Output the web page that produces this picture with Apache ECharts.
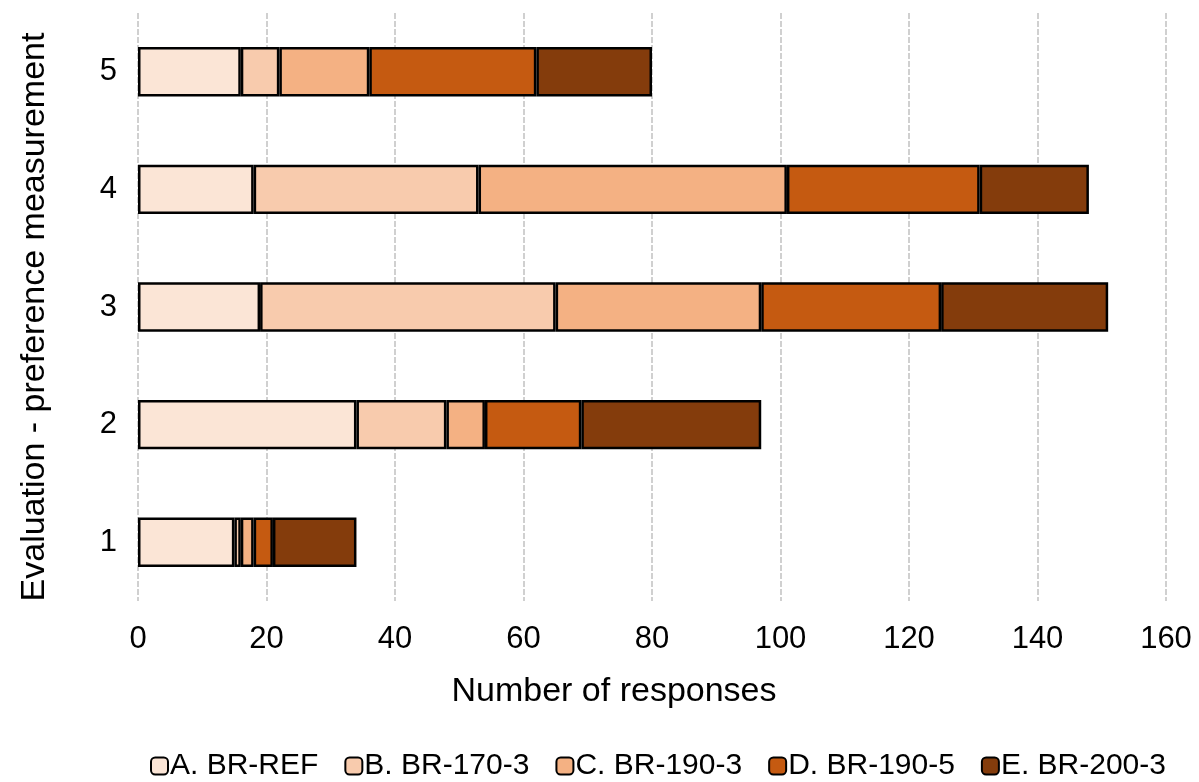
<!DOCTYPE html>
<html><head><meta charset="utf-8">
<script src="https://cdn.jsdelivr.net/npm/echarts@6/dist/echarts.min.js"></script>
<style>html,body{margin:0;padding:0;background:#fff}#c{width:1199px;height:782px}</style>
</head><body><div id="c"></div>
<script>
const categories = ['1','2','3','4','5'];
const seriesNames = ['A. BR-REF','B. BR-170-3','C. BR-190-3','D. BR-190-5','E. BR-200-3'];
const A = [15, 34, 19, 18, 16];
const B = [1, 14, 46, 35, 6];
const C = [2, 6, 32, 48, 14];
const D = [3, 15, 28, 30, 26];
const E = [13, 28, 26, 17, 18];
const xTicks = [0,20,40,60,80,100,120,140,160];
const colors = ['#FBE5D6','#F8CBAD','#F4B183','#C55A11','#843C0C'];
const values = [A,B,C,D,E];
const font = 'Liberation Sans, Arial, sans-serif';
const chart = echarts.init(document.getElementById('c'));
chart.setOption({
  animation:false,
  grid:{left:138,right:33,top:13,bottom:181,containLabel:false},
  legend:{bottom:-4,left:145,itemWidth:17,itemHeight:17,itemGap:26,
    textStyle:{fontFamily:font,fontSize:30,color:'#000',padding:[0,0,0,-3]},
    data:seriesNames.map((n,i)=>({name:n,itemStyle:{color:colors[i],borderColor:'#000',borderWidth:2}}))},
  xAxis:{type:'value',min:xTicks[0],max:xTicks[xTicks.length-1],interval:20,
    name:'Number of responses',nameLocation:'middle',nameGap:74,
    nameTextStyle:{fontFamily:font,fontSize:34,color:'#000',padding:[0,76,0,0]},
    axisLine:{show:false},axisTick:{show:false},
    axisLabel:{fontFamily:font,fontSize:31,color:'#000',margin:23},
    splitLine:{show:true,lineStyle:{color:'#d0d0d0',width:2,type:[6,2]}}},
  yAxis:{type:'category',data:categories,
    name:'Evaluation - preference measurement',nameLocation:'middle',nameGap:86,
    nameTextStyle:{fontFamily:font,fontSize:34,color:'#000',padding:[0,20,0,0]},
    axisLine:{show:false},axisTick:{show:false},
    axisLabel:{fontFamily:font,fontSize:31,color:'#000',margin:21}},
  series:seriesNames.map((n,i)=>({name:n,type:'bar',stack:'t',data:values[i],
    barCategoryGap:'58%',
    itemStyle:{color:colors[i],borderColor:'#000',borderWidth:2.5}}))
});
</script></body></html>
